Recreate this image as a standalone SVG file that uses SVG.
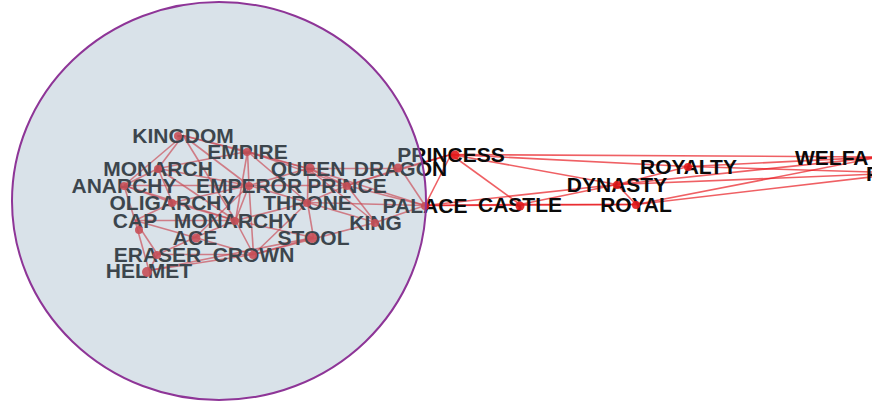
<svg xmlns="http://www.w3.org/2000/svg" width="872" height="404" viewBox="0 0 872 404">
<style>
.e{stroke:#e8141b;stroke-opacity:.68;stroke-width:1.6;fill:none}
.lbl{font-family:"Liberation Sans",Arial,sans-serif;font-weight:bold;font-size:21px;fill:#0a0a0a;text-anchor:middle}
.lbs{font-family:"Liberation Sans",Arial,sans-serif;font-weight:bold;font-size:21px;fill:#0a0a0a}
.dot{fill:#e31a1c;fill-opacity:.9}
</style>
<rect width="872" height="404" fill="#fff"/>
<g id="connectors">
<line class="e" x1="183" y1="135.5" x2="158" y2="168.5"/>
<line class="e" x1="183" y1="135.5" x2="247.5" y2="151.5"/>
<line class="e" x1="183" y1="135.5" x2="249" y2="185.5"/>
<line class="e" x1="183" y1="135.5" x2="308" y2="168.5"/>
<line class="e" x1="183" y1="135.5" x2="235.5" y2="220.5"/>
<line class="e" x1="183" y1="135.5" x2="124" y2="185.5"/>
<line class="e" x1="247.5" y1="151.5" x2="249" y2="185.5"/>
<line class="e" x1="247.5" y1="151.5" x2="308" y2="168.5"/>
<line class="e" x1="247.5" y1="151.5" x2="235.5" y2="220.5"/>
<line class="e" x1="247.5" y1="151.5" x2="347" y2="185.5"/>
<line class="e" x1="247.5" y1="151.5" x2="307.5" y2="202.5"/>
<line class="e" x1="158" y1="168.5" x2="124" y2="185.5"/>
<line class="e" x1="158" y1="168.5" x2="249" y2="185.5"/>
<line class="e" x1="158" y1="168.5" x2="172.5" y2="202.5"/>
<line class="e" x1="158" y1="168.5" x2="235.5" y2="220.5"/>
<line class="e" x1="158" y1="168.5" x2="247.5" y2="151.5"/>
<line class="e" x1="124" y1="185.5" x2="172.5" y2="202.5"/>
<line class="e" x1="124" y1="185.5" x2="235.5" y2="220.5"/>
<line class="e" x1="124" y1="185.5" x2="135" y2="220.5"/>
<line class="e" x1="124" y1="185.5" x2="249" y2="185.5"/>
<line class="e" x1="172.5" y1="202.5" x2="235.5" y2="220.5"/>
<line class="e" x1="172.5" y1="202.5" x2="135" y2="220.5"/>
<line class="e" x1="172.5" y1="202.5" x2="249" y2="185.5"/>
<line class="e" x1="249" y1="185.5" x2="307.5" y2="202.5"/>
<line class="e" x1="249" y1="185.5" x2="235.5" y2="220.5"/>
<line class="e" x1="249" y1="185.5" x2="347" y2="185.5"/>
<line class="e" x1="249" y1="185.5" x2="308" y2="168.5"/>
<line class="e" x1="249" y1="185.5" x2="253.5" y2="254.5"/>
<line class="e" x1="249" y1="185.5" x2="195" y2="237.5"/>
<line class="e" x1="308" y1="168.5" x2="347" y2="185.5"/>
<line class="e" x1="308" y1="168.5" x2="375.5" y2="222.5"/>
<line class="e" x1="308" y1="168.5" x2="400.5" y2="168.5"/>
<line class="e" x1="308" y1="168.5" x2="425" y2="205.5"/>
<line class="e" x1="308" y1="168.5" x2="307.5" y2="202.5"/>
<line class="e" x1="347" y1="185.5" x2="307.5" y2="202.5"/>
<line class="e" x1="347" y1="185.5" x2="425" y2="205.5"/>
<line class="e" x1="347" y1="185.5" x2="375.5" y2="222.5"/>
<line class="e" x1="347" y1="185.5" x2="451" y2="154.5"/>
<line class="e" x1="347" y1="185.5" x2="400.5" y2="168.5"/>
<line class="e" x1="307.5" y1="202.5" x2="375.5" y2="222.5"/>
<line class="e" x1="307.5" y1="202.5" x2="313.5" y2="237.5"/>
<line class="e" x1="307.5" y1="202.5" x2="235.5" y2="220.5"/>
<line class="e" x1="307.5" y1="202.5" x2="425" y2="205.5"/>
<line class="e" x1="307.5" y1="202.5" x2="253.5" y2="254.5"/>
<line class="e" x1="235.5" y1="220.5" x2="253.5" y2="254.5"/>
<line class="e" x1="235.5" y1="220.5" x2="313.5" y2="237.5"/>
<line class="e" x1="235.5" y1="220.5" x2="195" y2="237.5"/>
<line class="e" x1="135" y1="220.5" x2="195" y2="237.5"/>
<line class="e" x1="135" y1="220.5" x2="157.5" y2="254.5"/>
<line class="e" x1="135" y1="220.5" x2="149" y2="270.5"/>
<line class="e" x1="135" y1="220.5" x2="235.5" y2="220.5"/>
<line class="e" x1="195" y1="237.5" x2="157.5" y2="254.5"/>
<line class="e" x1="195" y1="237.5" x2="253.5" y2="254.5"/>
<line class="e" x1="157.5" y1="254.5" x2="253.5" y2="254.5"/>
<line class="e" x1="157.5" y1="254.5" x2="149" y2="270.5"/>
<line class="e" x1="149" y1="270.5" x2="253.5" y2="254.5"/>
<line class="e" x1="149" y1="270.5" x2="313.5" y2="237.5"/>
<line class="e" x1="253.5" y1="254.5" x2="313.5" y2="237.5"/>
<line class="e" x1="253.5" y1="254.5" x2="375.5" y2="222.5"/>
<line class="e" x1="375.5" y1="222.5" x2="425" y2="205.5"/>
<line class="e" x1="400.5" y1="168.5" x2="425" y2="205.5"/>
<line class="e" x1="400.5" y1="168.5" x2="451" y2="154.5"/>
<line class="e" x1="425" y1="205.5" x2="451" y2="154.5"/>
<line class="e" x1="425" y1="205.5" x2="520" y2="204.5"/>
<line class="e" x1="425" y1="205.5" x2="617" y2="184.5"/>
<line class="e" x1="425" y1="205.5" x2="636" y2="204.5"/>
<line class="e" x1="451" y1="154.5" x2="520" y2="204.5"/>
<line class="e" x1="451" y1="154.5" x2="617" y2="184.5"/>
<line class="e" x1="451" y1="154.5" x2="688.5" y2="166.5"/>
<line class="e" x1="451" y1="154.5" x2="880" y2="157"/>
<line class="e" x1="520" y1="204.5" x2="617" y2="184.5"/>
<line class="e" x1="520" y1="204.5" x2="636" y2="204.5"/>
<line class="e" x1="617" y1="184.5" x2="688.5" y2="166.5"/>
<line class="e" x1="617" y1="184.5" x2="636" y2="204.5"/>
<line class="e" x1="617" y1="184.5" x2="880" y2="157"/>
<line class="e" x1="617" y1="184.5" x2="905" y2="173"/>
<line class="e" x1="688.5" y1="166.5" x2="880" y2="157"/>
<line class="e" x1="688.5" y1="166.5" x2="905" y2="173"/>
<line class="e" x1="636" y1="204.5" x2="905" y2="173"/>
<line class="e" x1="636" y1="204.5" x2="880" y2="157"/>
</g>
<g id="node-kingdom"><text class="lbl" x="183" y="143">KINGDOM</text><circle class="dot" cx="178" cy="136" r="4"/></g>
<g id="node-empire"><text class="lbl" x="247.5" y="159">EMPIRE</text><circle class="dot" cx="247" cy="152" r="4"/></g>
<g id="node-monarch"><text class="lbl" x="158" y="176">MONARCH</text><circle class="dot" cx="158" cy="169" r="4"/></g>
<g id="node-queen"><text class="lbl" x="308" y="176">QUEEN</text><circle class="dot" cx="310" cy="168" r="4.5"/></g>
<g id="node-dragon"><text class="lbl" x="400.5" y="176">DRAGON</text><circle class="dot" cx="398" cy="168" r="4.5"/></g>
<g id="node-anarchy"><text class="lbl" x="124" y="193">ANARCHY</text><circle class="dot" cx="124" cy="186" r="4"/></g>
<g id="node-emperor"><text class="lbl" x="249" y="193">EMPEROR</text><circle class="dot" cx="249" cy="186" r="4"/></g>
<g id="node-prince"><text class="lbl" x="347" y="193">PRINCE</text><circle class="dot" cx="347" cy="186" r="4"/></g>
<g id="node-oligarchy"><text class="lbl" x="172.5" y="210">OLIGARCHY</text><circle class="dot" cx="172" cy="203" r="4"/></g>
<g id="node-throne"><text class="lbl" x="307.5" y="210">THRONE</text><circle class="dot" cx="307" cy="203" r="4"/></g>
<g id="node-palace"><text class="lbl" x="425" y="213">PALACE</text><circle class="dot" cx="425" cy="206" r="4"/></g>
<g id="node-cap"><text class="lbl" x="135" y="228">CAP</text><circle class="dot" cx="139" cy="230" r="4"/></g>
<g id="node-monarchy"><text class="lbl" x="235.5" y="228">MONARCHY</text><circle class="dot" cx="235" cy="221" r="4"/></g>
<g id="node-king"><text class="lbl" x="375.5" y="230">KING</text><circle class="dot" cx="375" cy="223" r="4"/></g>
<g id="node-ace"><text class="lbl" x="195" y="245">ACE</text><circle class="dot" cx="196" cy="238" r="4.5"/></g>
<g id="node-stool"><text class="lbl" x="313.5" y="245">STOOL</text><circle class="dot" cx="312" cy="238" r="5"/></g>
<g id="node-eraser"><text class="lbl" x="157.5" y="262">ERASER</text><circle class="dot" cx="157" cy="255" r="4"/></g>
<g id="node-crown"><text class="lbl" x="253.5" y="262">CROWN</text><circle class="dot" cx="253" cy="255" r="4"/></g>
<g id="node-helmet"><text class="lbl" x="149" y="278">HELMET</text><circle class="dot" cx="147" cy="272" r="5"/></g>
<g id="node-princess"><text class="lbl" x="451" y="162">PRINCESS</text><circle class="dot" cx="455" cy="155" r="4.5"/></g>
<g id="node-castle"><text class="lbl" x="520" y="212">CASTLE</text><circle class="dot" cx="520" cy="206" r="4.5"/></g>
<g id="node-dynasty"><text class="lbl" x="617" y="192">DYNASTY</text><circle class="dot" cx="617" cy="185" r="4"/></g>
<g id="node-royalty"><text class="lbl" x="688.5" y="174">ROYALTY</text><circle class="dot" cx="688" cy="167" r="4"/></g>
<g id="node-royal"><text class="lbl" x="636" y="212">ROYAL</text><circle class="dot" cx="636" cy="205" r="4"/></g>
<g id="node-welfare"><text class="lbs" x="795" y="165">WELFA</text></g>
<g id="node-p"><text class="lbs" x="866" y="181">P</text></g>
<ellipse id="highlight" cx="219" cy="201" rx="207" ry="199" fill="rgb(150,176,193)" fill-opacity="0.36" stroke="#8e3597" stroke-width="2"/>
</svg>
